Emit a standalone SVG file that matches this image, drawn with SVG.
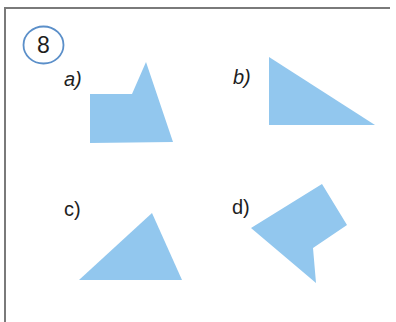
<svg xmlns="http://www.w3.org/2000/svg" width="396" height="322" viewBox="0 0 396 322">
<style>
.shape{fill:#92c7ee;stroke:none}
.lbl{font-family:"Liberation Sans",Arial,sans-serif;font-size:20px;fill:#1e1e1e}
.it{font-style:italic}
.frame{stroke:#7a7a7a;stroke-width:2;fill:none}
</style>
<rect width="396" height="322" fill="#ffffff"/>
<g id="frame">
<path class="frame" d="M5 322 V8 H390"/>
</g>
<g id="number">
<ellipse cx="43.5" cy="45" rx="20" ry="18.5" fill="none" stroke="#5b8fc9" stroke-width="1.8"/>
<text x="43.5" y="52.5" text-anchor="middle" font-family="Liberation Sans,Arial,sans-serif" font-size="23" fill="#1e1e1e">8</text>
</g>
<g id="a">
<polygon class="shape" points="90,94 132,94 146,62 173,142 90,143"/>
<text class="lbl it" x="64" y="86">a)</text>
</g>
<g id="b">
<polygon class="shape" points="269,57 269,125 375,125"/>
<text class="lbl it" x="233" y="84">b)</text>
</g>
<g id="c">
<polygon class="shape" points="152,213 79,280 182,280"/>
<text class="lbl" x="64" y="216">c)</text>
</g>
<g id="d">
<polygon class="shape" points="251,228 322,184 347,225 313,248 316,283"/>
<text class="lbl" x="232" y="214">d)</text>
</g>
<g id="connectors"/>
</svg>
